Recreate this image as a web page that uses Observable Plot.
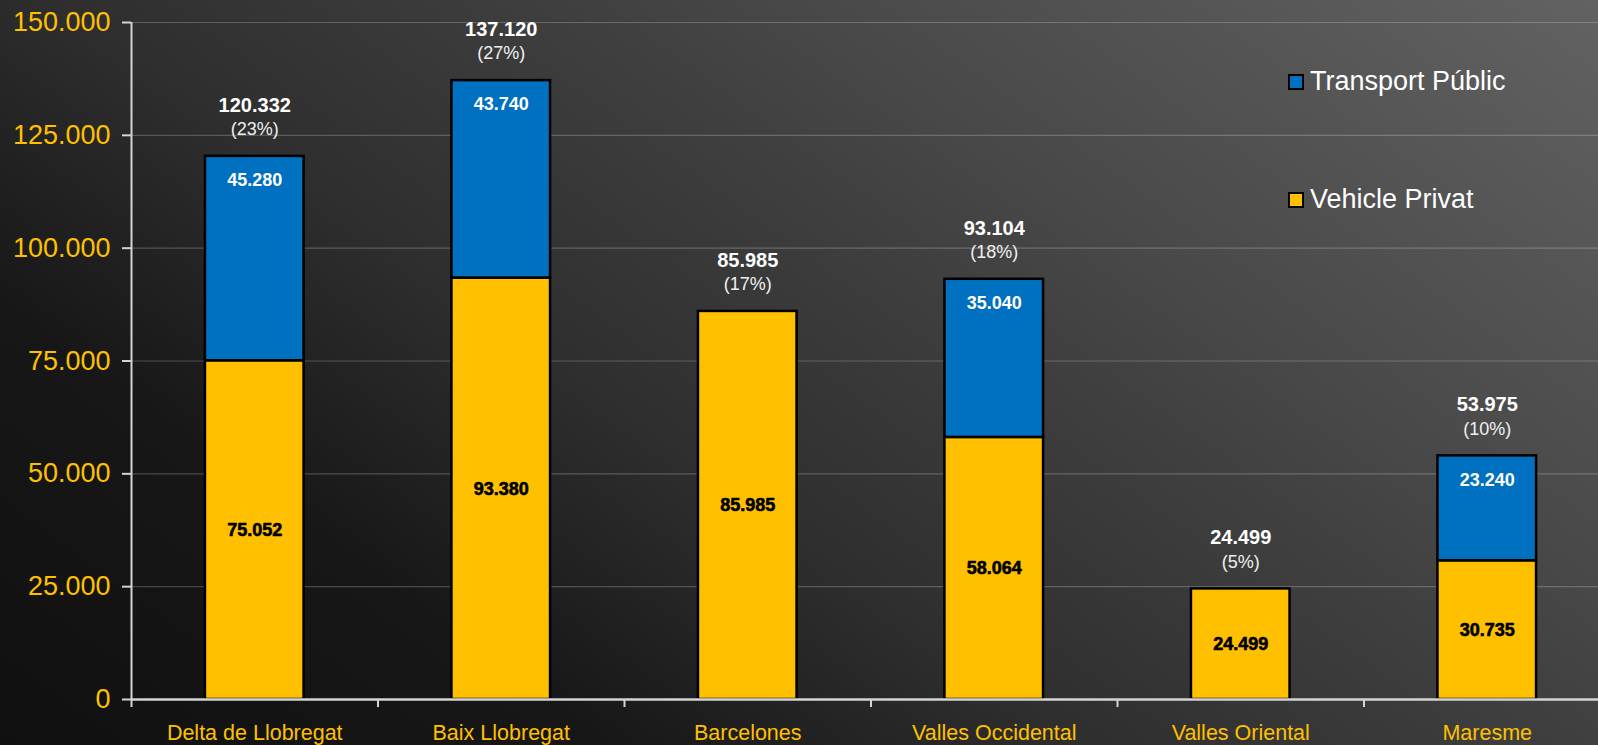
<!DOCTYPE html>
<html><head><meta charset="utf-8">
<script src="https://cdn.jsdelivr.net/npm/d3@7"></script>
<script src="https://cdn.jsdelivr.net/npm/@observablehq/plot@0.6"></script>
<style>
html,body{margin:0;padding:0;width:1598px;height:745px;overflow:hidden;}
body{background:linear-gradient(36deg,#101010 0%,#171717 23%,#2e2e2e 41%,#404040 61%,#484848 69%,#626262 100%);font-family:"Liberation Sans",Arial,sans-serif;}
#wrap{position:relative;width:1598px;height:745px;overflow:hidden;}
#chart svg{max-width:none !important;height:745px !important;display:block;}
#legend{position:absolute;left:0;top:0;}
.item{position:absolute;display:flex;align-items:center;color:#fff;font-size:27px;white-space:nowrap;}
.sw{width:12px;height:12px;border:2.5px solid #000;margin-right:6px;}
</style></head><body><div id="wrap"><div id="chart"></div><div id="legend"></div></div>
<script>
const categories = ["Delta de Llobregat", "Baix Llobregat", "Barcelones", "Valles Occidental", "Valles Oriental", "Maresme"];
const publicTransport = [45280, 43740, null, 35040, null, 23240];
const privateVehicle = [75052, 93380, 85985, 58064, 24499, 30735];
const seriesNames = ["Transport Públic", "Vehicle Privat"];
const seriesColors = ["#0070C0", "#FFC000"];
const yTicks = [0, 25000, 50000, 75000, 100000, 125000, 150000];

const locale = d3.formatLocale({decimal: ",", thousands: ".", grouping: [3], currency: ["", "€"]});
const fmt = locale.format(",d");

const rows = categories.map((c, i) => {
  const pub = publicTransport[i] || 0;
  const priv = privateVehicle[i];
  return {cat: c, i, pub, priv, total: pub + priv};
});
const grand = d3.sum(rows, d => d.total);
rows.forEach(d => d.pct = Math.round(d.total / grand * 100));

const chart = Plot.plot({
  width: 1610,
  height: 745,
  marginLeft: 131,
  marginRight: 0,
  marginTop: 22,
  marginBottom: 46,
  style: {background: "transparent", fontFamily: "Liberation Sans, Arial, sans-serif", overflow: "visible", maxWidth: "none"},
  x: {domain: [0, 6]},
  y: {domain: [0, 150000]},
  marks: [
    Plot.ruleY(yTicks.filter(d => d > 0), {stroke: "white", strokeOpacity: 0.22, strokeWidth: 1.2}),
    Plot.rectY(rows, {x1: d => d.i + 0.3, x2: d => d.i + 0.7, y1: 0, y2: "priv", fill: seriesColors[1], stroke: "black", strokeWidth: 2.5}),
    Plot.rectY(rows.filter(d => d.pub > 0), {x1: d => d.i + 0.3, x2: d => d.i + 0.7, y1: "priv", y2: "total", fill: seriesColors[0], stroke: "black", strokeWidth: 2.5}),
    Plot.ruleX([0], {y1: 0, y2: 150000, stroke: "#d4d4d4", strokeWidth: 2}),
    Plot.ruleY([0], {stroke: "#d4d4d4", strokeWidth: 2.5}),
    Plot.axisY({ticks: yTicks, tickSize: 9, tickPadding: 12, tickFormat: fmt, stroke: "#d4d4d4", strokeWidth: 2, fill: "#FFC000", fontSize: 27, label: null}),
    Plot.axisX({ticks: d3.range(0, 7), tickSize: 8, tickFormat: () => "", stroke: "#d4d4d4", strokeWidth: 2, label: null}),
    Plot.axisX({ticks: d3.range(0.5, 6, 1), tickSize: 0, tickPadding: 25, tickFormat: v => categories[Math.floor(v)], fill: "#FFC000", fontSize: 21.5, label: null}),
    Plot.text(rows, {x: d => d.i + 0.5, y: "total", text: d => fmt(d.total), dy: -51, fill: "white", fontWeight: "bold", fontSize: 20}),
    Plot.text(rows, {x: d => d.i + 0.5, y: "total", text: d => `(${d.pct}%)`, dy: -27, fill: "#f0f0f0", fontSize: 18}),
    Plot.text(rows.filter(d => d.pub > 0), {x: d => d.i + 0.5, y: "total", text: d => fmt(d.pub), dy: 24, fill: "white", fontWeight: "bold", fontSize: 18}),
    Plot.text(rows, {x: d => d.i + 0.5, y: d => d.priv / 2, text: d => fmt(d.priv), fill: "black", stroke: "black", strokeWidth: 0.6, fontWeight: "bold", fontSize: 18})
  ]
});
document.getElementById("chart").appendChild(chart);

const legend = document.getElementById("legend");
const legendTops = [66, 184];
seriesNames.forEach((name, k) => {
  const it = document.createElement("div");
  it.className = "item";
  it.style.left = "1288px";
  it.style.top = legendTops[k] + "px";
  const sw = document.createElement("span");
  sw.className = "sw";
  sw.style.background = seriesColors[k];
  it.appendChild(sw);
  it.appendChild(document.createTextNode(name));
  legend.appendChild(it);
});
</script></body></html>
